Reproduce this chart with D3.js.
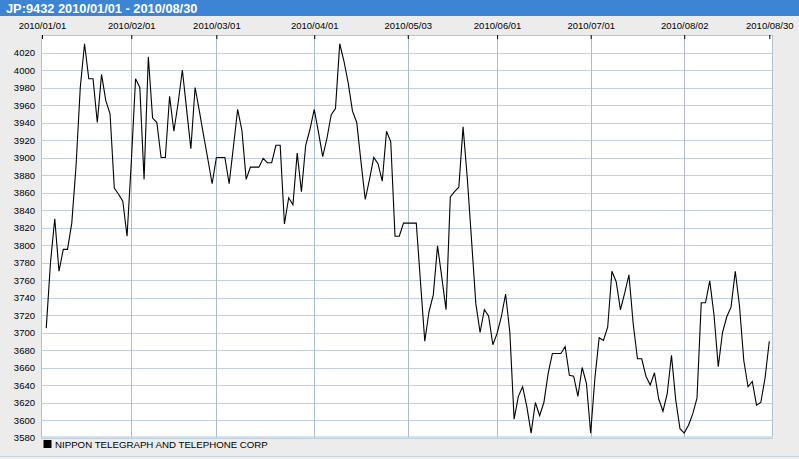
<!DOCTYPE html>
<html><head><meta charset="utf-8">
<script src="https://cdn.jsdelivr.net/npm/d3@7"></script>
<style>
body{margin:0;background:#ececec;}
svg{display:block;}
text{font-family:"Liberation Sans",Arial,sans-serif;}
</style>
</head><body>
<svg id="chart" width="799" height="459"></svg>
<script>
// ---- data ----
const chartTitle = "JP:9432 2010/01/01 - 2010/08/30";
const seriesName = "NIPPON TELEGRAPH AND TELEPHONE CORP";
const xTickLabels = ["2010/01/01","2010/02/01","2010/03/01","2010/04/01","2010/05/03","2010/06/01","2010/07/01","2010/08/02","2010/08/30"];
const xTickDayIndex = [0,21,41,64,86,107,129,151,171];   // weekday index from 2010/01/01
const firstDayIndex = 1;                                  // first quote (2010/01/04)
const yTickValues = [3580,3600,3620,3640,3660,3680,3700,3720,3740,3760,3780,3800,3820,3840,3860,3880,3900,3920,3940,3960,3980,4000,4020];
const prices = [
 3705,3780,3830,3770,3795,3795,3825,3890,3980,4030,
 3990,3990,3940,3995,3965,3950,3865,3858,3850,3810,
 3895,3990,3980,3875,4015,3945,3940,3900,3900,3970,
 3930,3962,4000,3955,3910,3980,3953,3925,3898,3870,
 3900,3900,3900,3870,3912,3955,3931,3875,3889,3889,
 3889,3899,3894,3894,3914,3914,3824,3854,3846,3905,
 3861,3914,3932,3955,3929,3901,3922,3949,3956,4030,
 4010,3985,3953,3940,3895,3852,3875,3900,3893,3873,
 3930,3918,3810,3810,3825,3825,3825,3825,3757,3690,
 3724,3743,3799,3763,3726,3855,3861,3866,3935,3876,
 3805,3733,3700,3726,3719,3686,3699,3718,3744,3700,
 3601,3627,3638,3615,3585,3620,3605,3620,3653,3676,
 3676,3676,3684,3651,3650,3627,3660,3642,3585,3648,
 3694,3691,3706,3770,3758,3726,3745,3766,3710,3670,
 3670,3650,3640,3654,3624,3610,3630,3674,3623,3590,
 3585,3594,3607,3625,3734,3734,3759,3720,3661,3700,
 3718,3729,3770,3730,3668,3638,3644,3617,3620,3648,
 3690
];
const yDomain = [3580, 4040];

// ---- layout ----
const W = 799, H = 459;
const plot = {left: 41, right: 773, top: 35, bottom: 437.5};
const svg = d3.select("#chart");

const x = d3.scaleLinear().domain([xTickDayIndex[0], xTickDayIndex[xTickDayIndex.length-1]]).range([42, 769.3]);
const y = d3.scaleLinear().domain(yDomain).range([plot.bottom, plot.top]);

// background
svg.append("rect").attr("x",0).attr("y",0).attr("width",W).attr("height",H).attr("fill","#ececec");
svg.append("line").attr("x1",0).attr("x2",W).attr("y1",H-2.5).attr("y2",H-2.5).attr("stroke","#c9d3dd");
// title bar
svg.append("rect").attr("x",0).attr("y",0).attr("width",W).attr("height",16).attr("fill","#3d84d4");
svg.append("text").attr("x",6).attr("y",12.5).attr("fill","#fff")
  .attr("font-size","12.8px").attr("font-weight","bold").text(chartTitle);

// plot background
svg.append("rect").attr("x",plot.left).attr("y",plot.top)
  .attr("width",plot.right-plot.left).attr("height",plot.bottom-plot.top).attr("fill","#fff");

// horizontal grid
svg.append("g").attr("transform",`translate(${plot.left},0)`)
  .call(d3.axisLeft(y).tickValues(yTickValues).tickSize(-(plot.right-plot.left)).tickFormat(""))
  .call(g=>g.select(".domain").remove())
  .call(g=>g.selectAll(".tick line").attr("stroke","#c0d0e0").attr("shape-rendering","crispEdges"));

// vertical grid
svg.append("g").selectAll("line").data(xTickDayIndex.slice(1,-1)).join("line")
  .attr("x1",d=>Math.round(x(d))+0.5).attr("x2",d=>Math.round(x(d))+0.5)
  .attr("y1",plot.top).attr("y2",plot.bottom).attr("stroke","#aabdd0");

// plot border
svg.append("rect").attr("x",plot.left+0.5).attr("y",plot.top+0.5)
  .attr("width",plot.right-plot.left-1).attr("height",plot.bottom-plot.top-1)
  .attr("fill","none").attr("stroke","#b3c3d3");

// x axis (top)
const xAxis = d3.axisTop(x).tickValues(xTickDayIndex)
  .tickFormat((d,i)=>xTickLabels[i]).tickSizeInner(-4).tickSizeOuter(0).tickPadding(6);
svg.append("g").attr("transform",`translate(0,${plot.top})`).call(xAxis)
  .call(g=>g.select(".domain").remove())
  .call(g=>g.selectAll(".tick line").attr("stroke","#000"))
  .call(g=>g.selectAll(".tick text").attr("fill","#000").attr("font-size","9.5px")
     .attr("font-family","'Liberation Sans',Arial,sans-serif"));

// y axis labels
svg.append("g").attr("transform",`translate(${plot.left},0)`)
  .call(d3.axisLeft(y).tickValues(yTickValues).tickFormat(d3.format("d")).tickSize(0).tickPadding(6))
  .call(g=>g.select(".domain").remove())
  .call(g=>g.selectAll(".tick text").attr("fill","#000").attr("font-size","9.5px")
     .attr("font-family","'Liberation Sans',Arial,sans-serif"));

// price line
const line = d3.line().x((d,i)=>x(firstDayIndex+i)).y(d=>y(d));
svg.append("path").datum(prices).attr("d",line)
  .attr("fill","none").attr("stroke","#000").attr("stroke-width",1.1);

// legend
svg.append("rect").attr("x",43.5).attr("y",440).attr("width",8).attr("height",8).attr("fill","#000");
svg.append("text").attr("x",55).attr("y",447.5).attr("font-size","9.7px").attr("fill","#000").text(seriesName);
</script>
</body></html>
